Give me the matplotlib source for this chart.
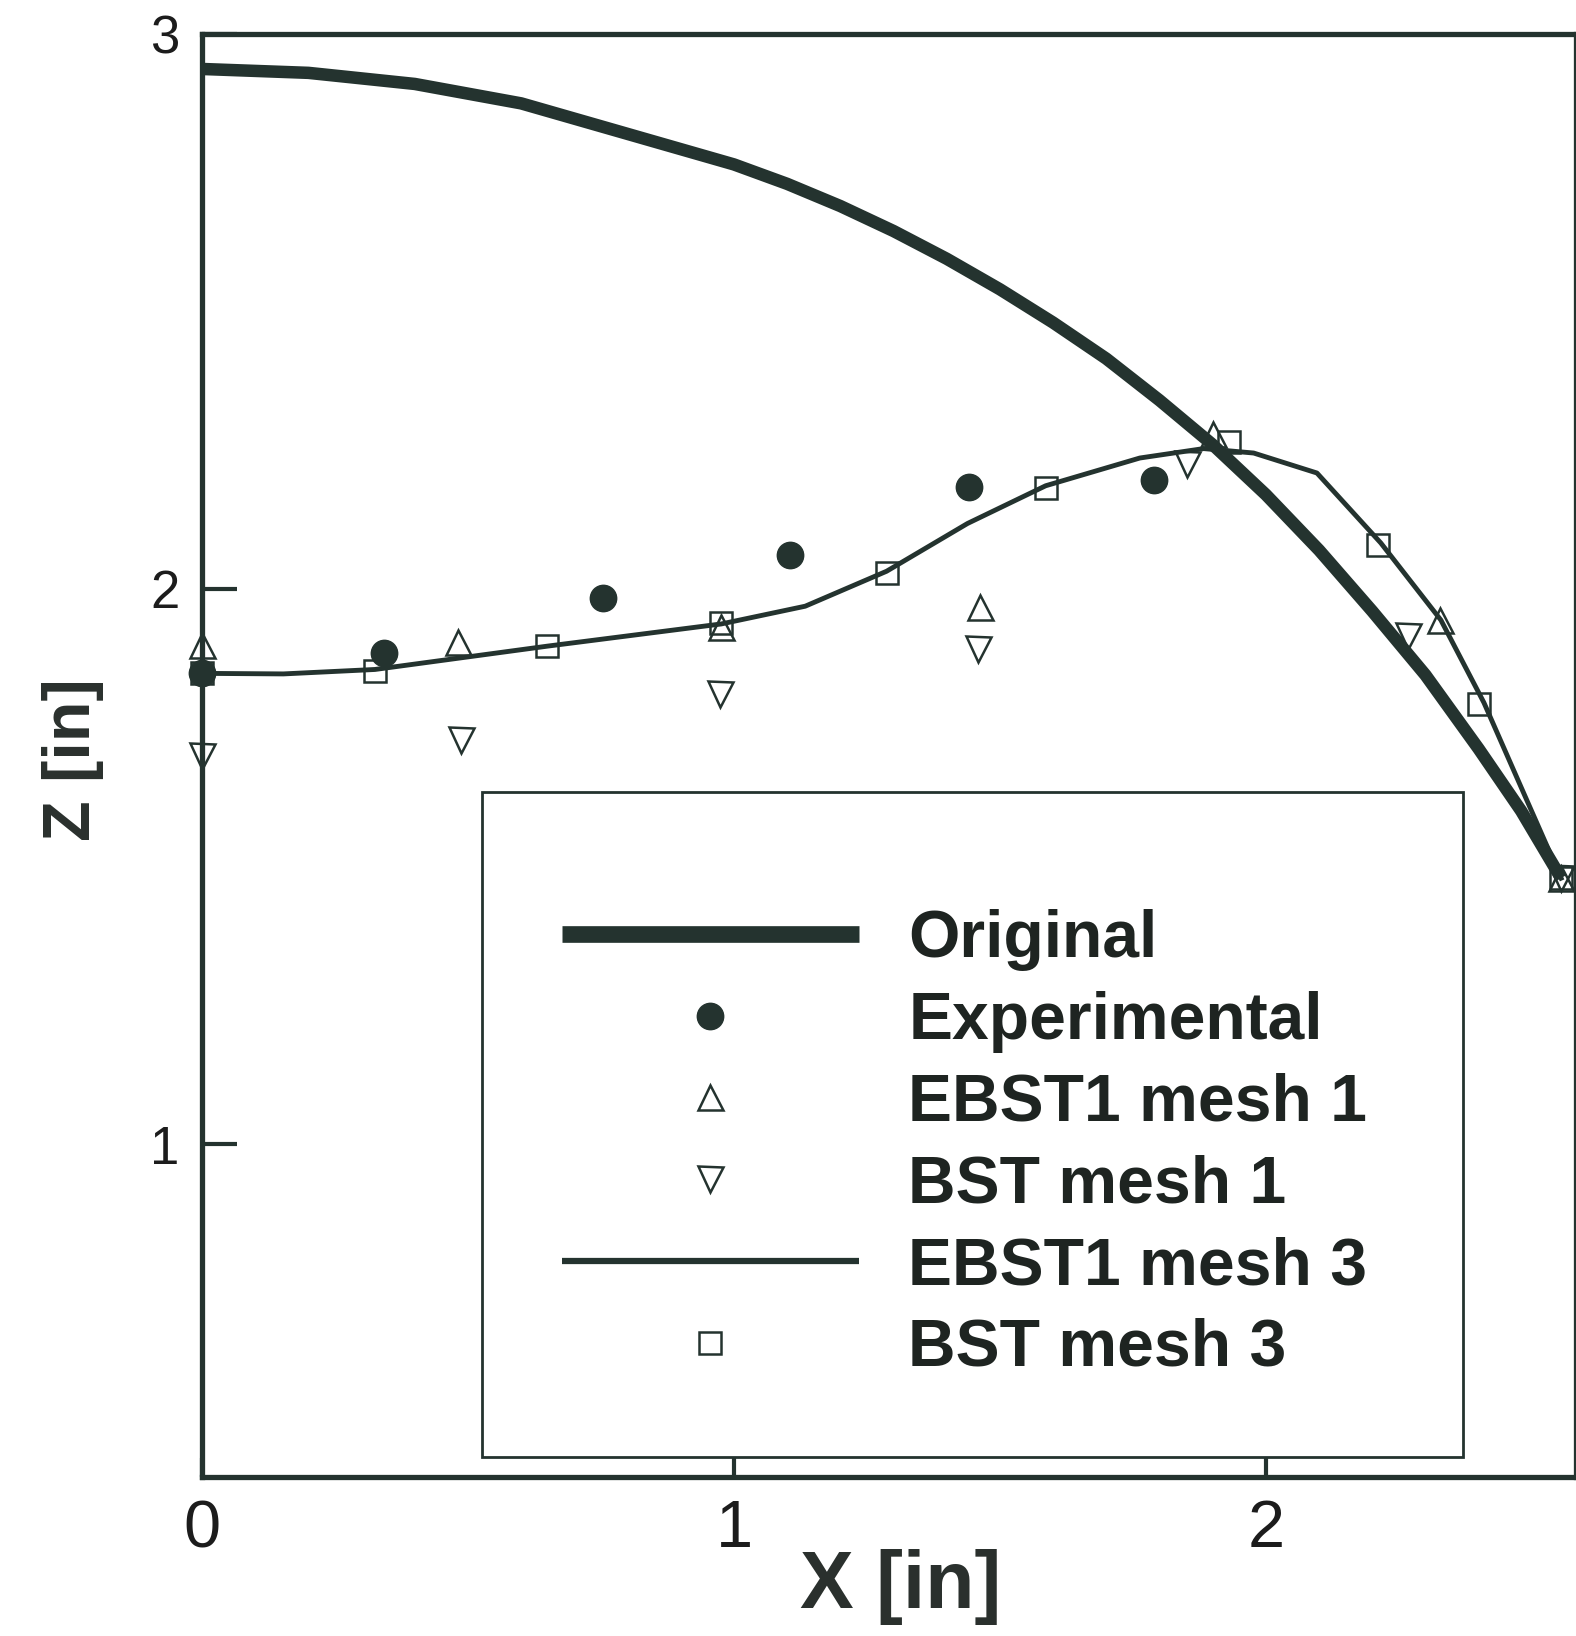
import matplotlib
matplotlib.use("Agg")
import matplotlib.pyplot as plt
from matplotlib.lines import Line2D
from matplotlib.patches import Rectangle

# values
orig_x = [0.0, 0.2, 0.4, 0.6, 0.8, 1.0, 1.1, 1.2, 1.3, 1.4, 1.5, 1.6, 1.7,
          1.8, 1.9, 2.0, 2.1, 2.2, 2.3, 2.4, 2.48, 2.555]
orig_z = [2.937, 2.93, 2.91, 2.875, 2.82, 2.765, 2.73, 2.69, 2.645, 2.595, 2.54,
          2.48, 2.415, 2.34, 2.26, 2.17, 2.07, 1.96, 1.845, 1.712, 1.60, 1.479]

exp_x = [0.0, 0.342, 0.754, 1.105, 1.442, 1.79]
exp_z = [1.848, 1.884, 1.984, 2.062, 2.183, 2.196]

ebst1_m1_x = [0.0, 0.482, 0.976, 1.462, 1.90, 2.327, 2.555]
ebst1_m1_z = [1.90, 1.904, 1.932, 1.968, 2.28, 1.945, 1.479]

bst_m1_x = [0.0, 0.486, 0.973, 1.458, 1.851, 2.268, 2.555]
bst_m1_z = [1.70, 1.728, 1.81, 1.892, 2.226, 1.915, 1.479]

ebst1_m3_x = [0.0, 0.153, 0.325, 0.649, 0.976, 1.134, 1.287, 1.439, 1.586, 1.763,
              1.883, 1.977, 2.096, 2.216, 2.329, 2.41, 2.555]
ebst1_m3_z = [1.848, 1.847, 1.855, 1.897, 1.937, 1.969, 2.032, 2.118, 2.186, 2.236,
              2.253, 2.245, 2.209, 2.083, 1.944, 1.795, 1.479]

bst_m3_x = [0.0, 0.325, 0.649, 0.976, 1.287, 1.586, 1.93, 2.21, 2.40, 2.555]
bst_m3_z = [1.848, 1.852, 1.897, 1.938, 2.028, 2.182, 2.265, 2.079, 1.792, 1.479]

labels = ["Original", "Experimental", "EBST1 mesh 1", "BST mesh 1",
          "EBST1 mesh 3", "BST mesh 3"]

ink = "#24332f"
plt.rcParams['font.family'] = ['Liberation Sans', 'DejaVu Sans']

fig = plt.figure(figsize=(15.76, 16.36), dpi=100)
ax = fig.add_axes([202 / 1576, 1 - 1477 / 1636, 1374 / 1576, 1443 / 1636])

ax.plot(orig_x, orig_z, color=ink, lw=9, solid_joinstyle='round', solid_capstyle='butt')
ax.plot(ebst1_m3_x, ebst1_m3_z, color=ink, lw=3.5, solid_joinstyle='round')
mk = dict(ls='none', color=ink, mfc='none', mew=1.8, clip_on=False)
ax.plot(bst_m3_x, bst_m3_z, marker='s', ms=16, **mk)
ax.plot(ebst1_m1_x, ebst1_m1_z, marker='^', ms=18, **mk)
ax.plot(bst_m1_x, bst_m1_z, marker='v', ms=18, **mk)
ax.plot(exp_x, exp_z, ls='none', marker='o', ms=19, color=ink, clip_on=False)

ax.set_xlim(0, 2.583)
ax.set_ylim(0.4, 3.0)
ax.set_xticks([0, 1, 2])
ax.set_yticks([1, 2, 3])
ax.tick_params(axis='y', direction='in', length=25, width=3, labelsize=38, pad=16,
               colors=ink, labelcolor='#1c1c1c')
ax.tick_params(axis='x', direction='in', length=14, width=3, labelsize=48, pad=16,
               colors=ink, labelcolor='#1c1c1c')
for side in ['left', 'bottom', 'top', 'right']:
    ax.spines[side].set_linewidth(3.8)
    ax.spines[side].set_color(ink)

# legend frame and entries
ax.add_patch(Rectangle((0.2035, 0.0139), 0.7145, 0.4608, transform=ax.transAxes,
                       fill=False, lw=2, ec=ink, zorder=5))
handles = [
    Line2D([], [], color=ink, lw=12, solid_capstyle='butt'),
    Line2D([], [], ls='none', marker='o', ms=19, color=ink),
    Line2D([], [], ls='none', marker='^', ms=18, color=ink, mfc='none', mew=1.8),
    Line2D([], [], ls='none', marker='v', ms=18, color=ink, mfc='none', mew=1.8),
    Line2D([], [], color=ink, lw=4.5, solid_capstyle='butt'),
    Line2D([], [], ls='none', marker='s', ms=16, color=ink, mfc='none', mew=1.8),
]
leg = ax.legend(handles, labels, loc='center left', bbox_to_anchor=(0.262, 0.2305),
                frameon=False, borderpad=0, borderaxespad=0, numpoints=1,
                handlelength=4.5, handletextpad=0.75, labelspacing=0.30,
                prop={'size': 47.5, 'weight': 'bold'})
for t in leg.get_texts():
    t.set_color('#1e2421')

fig.text(901 / 1576, (1636 - 1608) / 1636, "X [in]", ha='center', va='baseline',
         fontsize=58, fontweight='bold', color='#2a302d')
fig.text(90 / 1576, (1636 - 760) / 1636, "Z [in]", ha='center', va='baseline',
         rotation=90, rotation_mode='anchor', fontsize=48, fontweight='bold',
         color='#2a302d')

fig.savefig("out.png", dpi=100)
